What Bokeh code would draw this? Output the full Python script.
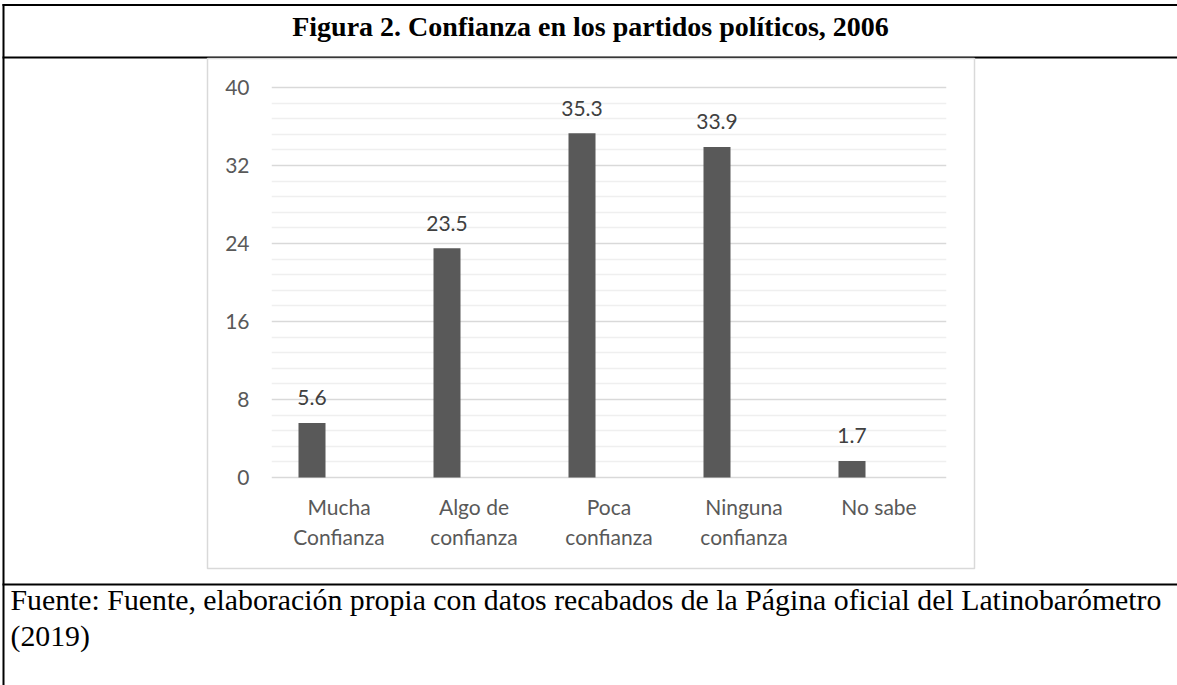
from bokeh.plotting import figure
from bokeh.models import ColumnDataSource, FactorRange, Range1d, FixedTicker
from bokeh.transform import dodge
from bokeh.core.properties import value
from bokeh.embed import file_html
from bokeh.resources import INLINE

# ---------------- data ----------------
categories = ["Mucha Confianza", "Algo de confianza", "Poca confianza",
              "Ninguna confianza", "No sabe"]
tick_labels = ["Mucha\nConfianza", "Algo de\nconfianza", "Poca\nconfianza",
               "Ninguna\nconfianza", "No sabe"]
values = [5.6, 23.5, 35.3, 33.9, 1.7]
value_labels = ["5.6", "23.5", "35.3", "33.9", "1.7"]
y_ticks = [0, 8, 16, 24, 32, 40]
title_text = "Figura 2. Confianza en los partidos políticos, 2006"
source_line1 = ("Fuente: Fuente, elaboración propia con datos recabados de la "
                "Página oficial del Latinobarómetro")
source_line2 = "(2019)"

# ---------------- layout (page pixels) ----------------
W, H = 1177, 685
FL, FR, FT, FB = 271, 946, 85, 479   # plot frame in page pixels
ABS = {"position": "absolute", "left": "0px", "top": "0px"}

# ======== back layer: table borders, title and source (page pixels) ========
back = figure(width=W, height=H, x_range=Range1d(0, W), y_range=Range1d(H, 0),
              output_backend="svg", toolbar_location=None, min_border=0,
              x_axis_location=None, y_axis_location=None)
back.styles = ABS
back.grid.visible = False
back.outline_line_color = None
back.background_fill_color = "white"
back.border_fill_color = "white"

# black rules of the table
back.quad(left=[2, 2, 2, 2], right=[W, W, W, 4],
          top=[3.5, 56, 583, 3.5], bottom=[5.5, 58, 585, H],
          fill_color="black", line_color=None)
# light grey chart frame
back.quad(left=[207], right=[974], top=[58], bottom=[568],
          fill_color=None, line_color="#d9d9d9", line_width=1.5)

back.text(x=[590], y=[26], text=[title_text],
          text_font=value("Liberation Serif"), text_font_style="bold",
          text_font_size="28px", text_align="center",
          text_baseline="alphabetic", text_color="black")
back.text(x=[10, 10], y=[599, 635], text=[source_line1, source_line2],
          text_font=value("Liberation Serif"), text_font_size="29.8px",
          text_align="left", text_baseline="alphabetic", text_color="black")

# ======== front layer: the bar chart ========
minor_ticks = []
for a, b in zip(y_ticks[:-1], y_ticks[1:]):
    step = (b - a) / 5
    minor_ticks += [a + step * k for k in range(1, 5)]

src = ColumnDataSource(dict(cat=tick_labels, name=categories,
                            val=values, lab=value_labels))

p = figure(width=W, height=H,
           x_range=FactorRange(factors=tick_labels),
           y_range=Range1d(-0.2, 40.2),
           output_backend="svg", toolbar_location=None,
           min_border_left=FL, min_border_right=W - FR,
           min_border_top=FT, min_border_bottom=H - FB)
p.styles = ABS
p.outline_line_color = None
p.background_fill_color = None
p.border_fill_color = None

p.xgrid.grid_line_color = None
p.yaxis.ticker = FixedTicker(ticks=y_ticks, minor_ticks=minor_ticks)
p.ygrid.grid_line_color = "#d9d9d9"
p.ygrid.grid_line_width = 1.5
p.ygrid.minor_grid_line_color = "#efefef"
p.ygrid.minor_grid_line_width = 1.5

for ax in (p.xaxis[0], p.yaxis[0]):
    ax.axis_line_color = None
    ax.major_tick_line_color = None
    ax.minor_tick_line_color = None
    ax.major_tick_out = 0
    ax.major_label_text_font = "Lato"
    ax.major_label_text_font_size = "21px"
    ax.major_label_text_color = "#595959"
p.yaxis.major_label_standoff = 18
p.xaxis.major_label_standoff = 14
p.xaxis.major_label_text_line_height = 1.2

xd = dodge("cat", -0.2, range=p.x_range)
p.vbar(x=xd, top="val", width=0.2, source=src,
       fill_color="#595959", line_color=None)
p.text(x=xd, y="val", text="lab", source=src, y_offset=-25,
       text_align="center", text_baseline="alphabetic",
       text_font=value("Lato"), text_font_size="21px", text_color="#404040")

open("out.html", "w").write(file_html([back, p], INLINE))
